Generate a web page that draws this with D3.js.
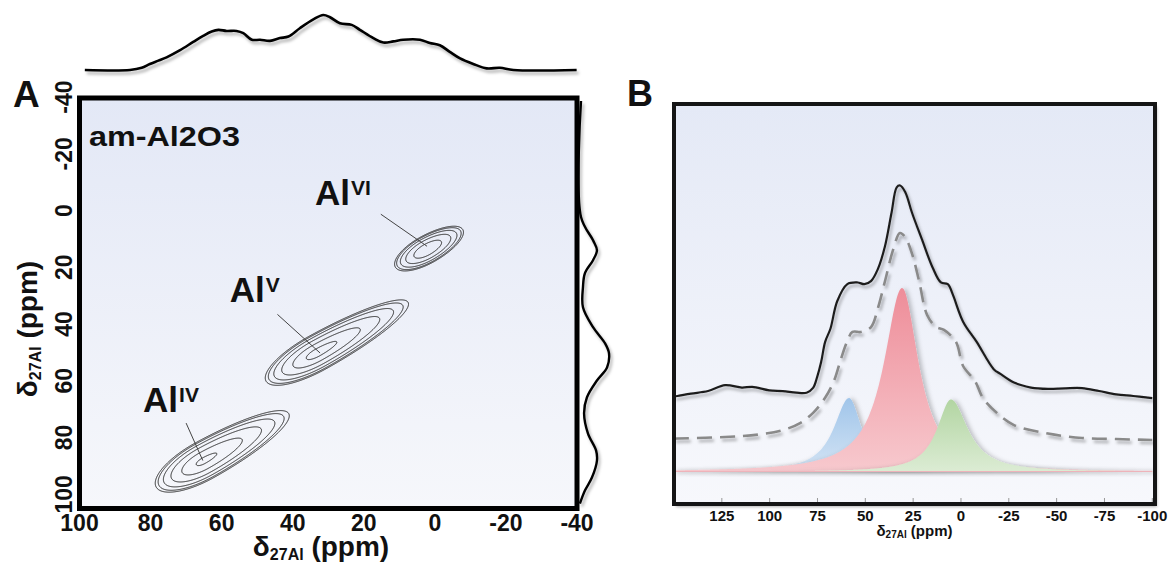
<!DOCTYPE html>
<html>
<head>
<meta charset="utf-8">
<script src="https://cdn.jsdelivr.net/npm/d3@7"></script>
<style>
  body { margin: 0; background: #fff; }
  text { font-family: "Liberation Sans", Arial, sans-serif; font-weight: bold; fill: #111; }
</style>
</head>
<body>
<svg id="fig" width="1174" height="563"></svg>
<script>
// ---------- values ----------
// panel A : 27Al MQMAS, both axes in ppm
const ticksF2 = [100, 80, 60, 40, 20, 0, -20, -40];
const ticksF1 = [-40, -20, 0, 20, 40, 60, 80, 100];

const sites = ["IV", "V", "VI"];
const siteF2 = [65.2, 33.2, 2.4];
const siteF1 = [88.0, 49.9, 13.6];
const siteAmp = [0.95, 1.0, 0.85];
const siteSpreadUp = [12.9, 13.6, 5.6];     // ppm along the ridge, to low shift
const siteSpreadDown = [7.2, 7.7, 4.9];     // ppm along the ridge, to high shift
const siteSpreadAcross = [2.6, 2.4, 1.9];   // ppm across the ridge
const ridgeAngle = 29;                      // deg
const contourLevels = [0.1, 0.13, 0.2, 0.34, 0.6, 0.9];

const labelPos = [[82.1, 71.1], [57.7, 32.3], [33.7, -1.9]];
const leaderFrom = [[70.0, 74.9], [44.3, 36.6], [15.2, 1.3]];
const leaderTo = [[65.3, 88.1], [32.3, 50.2], [2.2, 12.6]];

// projections, normalised
const topPpm = [98.5, 85.8, 82.5, 80.2, 77.8, 75.5, 71.7, 68.0, 65.2, 62.8, 60.9, 58.6, 55.8, 53.9, 51.5, 49.2,
  46.4, 43.6, 41.2, 38.0, 34.2, 31.4, 29.5, 26.7, 23.4, 21.1, 17.3, 14.5, 11.7, 8.9, 4.2, 1.4, -1.4, -4.2,
  -7.1, -10.8, -14.6, -18.3, -22.1, -39.9];
const topInt = [0, 0, 0.04, 0.11, 0.17, 0.23, 0.36, 0.51, 0.62, 0.70, 0.73, 0.71, 0.71, 0.67, 0.55, 0.55,
  0.53, 0.58, 0.61, 0.76, 0.92, 1.0, 0.96, 0.85, 0.82, 0.73, 0.58, 0.50, 0.52, 0.55, 0.55, 0.49, 0.45, 0.33,
  0.21, 0.11, 0.03, 0.04, 0, 0];
const sidePpm = [-38.6, 2.3, 10.5, 14.0, 17.5, 22.1, 27.0, 34.1, 41.1, 46.8, 50.3, 55.3, 59.9, 65.9, 71.5,
  78.6, 84.6, 88.1, 94.1, 98.7, 103.3];
const sideInt = [0, 0, 0.43, 0.57, 0.43, 0.14, 0.07, 0.07, 0.43, 0.86, 1.0, 0.93, 0.57, 0.21, 0.11,
  0.25, 0.54, 0.57, 0.39, 0.14, -0.04];

// panel B : 1D spectrum, fit and components
const ticksB = [125, 100, 75, 50, 25, 0, -25, -50, -75, -100];
const expPpm = [150, 148.2, 141.1, 132.2, 123.3, 114.5, 109.1, 100.2, 93.1, 86.0, 80.7, 77.3, 75.2, 73.1, 71.0,
  68.2, 64.7, 59.4, 54.0, 50.5, 46.9, 43.4, 39.8, 36.3, 33.6, 31.8, 29.1, 25.6, 20.3, 14.9, 10.5, 6.9, 4.3,
  -1.1, -8.2, -17.1, -20.6, -27.7, -36.6, -45.5, -54.4, -63.3, -72.2, -81.1, -90.0, -98.8, -100];
const expInt = [41.0, 41.3, 42.6, 44.0, 47.2, 45.9, 46.3, 44.4, 44.0, 43.1, 43.1, 45.7, 51.6, 59.8, 70.7,
  78.0, 92.8, 102.1, 103.0, 102.1, 103.9, 110.4, 122.4, 140.9, 154.7, 155.7, 152.0, 140.9, 126.1, 111.3, 103.0,
  102.1, 96.5, 81.7, 70.7, 55.9, 53.3, 48.6, 45.9, 45.2, 45.5, 45.6, 44.0, 42.2, 41.3, 40.3, 40.2];
const fitPpm = [150, 148.2, 123.3, 105.6, 93.0, 84.1, 77.3, 71.1, 66.4, 62.9, 59.6, 56.7, 52.3, 47.0, 43.4,
  39.7, 35.5, 31.9, 29.2, 25.6, 21.9, 17.7, 13.0, 8.9, 2.6, -1.1, -7.3, -11.5, -18.8, -27.7, -45.5, -63.3,
  -81.1, -100];
const fitInt = [18.1, 18.2, 19.0, 20.4, 22.8, 26.6, 32.1, 40.2, 49.5, 60.9, 70.7, 76.1, 76.1, 78.8, 89.1,
  103.8, 120.7, 129.9, 127.7, 118.7, 103.8, 85.3, 78.8, 77.2, 70.7, 57.6, 49.5, 40.2, 32.1, 25.5, 20.9, 18.5,
  17.9, 17.4];
const compCenter = [58.5, 30.8, 5.2];
const compHeight = [40.2, 100, 39.4];
const compHwhmHigh = [9.7, 11.5, 8.9];
const compHwhmLow = [8.0, 10.5, 10.7];
const compColor = [["#a0c5ea", "#d4e4f4"], ["#ee8d99", "#f7c9ce"], ["#b2d5a2", "#dcecd4"]];

// ---------- drawing ----------
const svg = d3.select("#fig");
const defs = svg.append("defs");

function vgrad(id, top, bottom) {
  const g = defs.append("linearGradient").attr("id", id)
    .attr("x1", 0).attr("y1", 0).attr("x2", 0).attr("y2", 1);
  g.append("stop").attr("offset", "0%").attr("stop-color", top);
  g.append("stop").attr("offset", "100%").attr("stop-color", bottom);
}
vgrad("bgA", "#e3e8f6", "#f6f7fb");
vgrad("bgB", "#e4e9f6", "#f7f8fc");
compColor.forEach((c, k) => vgrad("comp" + k, c[0], c[1]));

function makeShadow(id, dx, dy, sd, op) {
  const f = defs.append("filter").attr("id", id)
    .attr("filterUnits", "userSpaceOnUse")
    .attr("x", 0).attr("y", 0).attr("width", 1174).attr("height", 563);
  f.append("feDropShadow").attr("dx", dx).attr("dy", dy).attr("stdDeviation", sd)
    .attr("flood-color", "#000").attr("flood-opacity", op);
}
makeShadow("shadow", 2, 3, 1.8, 0.3);
makeShadow("softShadow", 3, 0.5, 2, 0.22);

// ===== panel A =====
const A = {left: 79.5, right: 577, top: 98, bottom: 508.5};
const xA = d3.scaleLinear().domain([100, -40]).range([A.left, A.right]);
const yA = d3.scaleLinear().domain([-40, 105]).range([97, A.bottom]);

svg.append("rect").attr("x", A.left).attr("y", A.top)
  .attr("width", A.right - A.left).attr("height", A.bottom - A.top)
  .attr("fill", "url(#bgA)");

// contour field on a pixel grid
const gx0 = Math.ceil(A.left), gy0 = Math.ceil(A.top);
const nx = Math.floor(A.right) - gx0, ny = Math.floor(A.bottom) - gy0;
const field = new Float64Array(nx * ny);
const pxPerPpm = Math.abs(xA(1) - xA(0));
const th = ridgeAngle * Math.PI / 180, cs = Math.cos(th), sn = Math.sin(th);
sites.forEach((s, k) => {
  const cx = xA(siteF2[k]) - gx0, cy = yA(siteF1[k]) - gy0;
  const su = siteSpreadUp[k] * pxPerPpm, sd = siteSpreadDown[k] * pxPerPpm;
  const sv = siteSpreadAcross[k] * pxPerPpm;
  for (let j = 0; j < ny; j++) {
    for (let i = 0; i < nx; i++) {
      const dx = i - cx, dy = j - cy;
      const u = dx * cs - dy * sn, v = dx * sn + dy * cs;
      const w = u > 0 ? su : sd;
      field[j * nx + i] += siteAmp[k] * Math.exp(-u * u / (2 * w * w) - v * v / (2 * sv * sv));
    }
  }
});
const rings = d3.contours().size([nx, ny]).thresholds(contourLevels)(field);
svg.append("g").attr("transform", `translate(${gx0},${gy0})`)
  .selectAll("path").data(rings).join("path")
  .attr("d", d3.geoPath())
  .attr("fill", "none").attr("stroke", "#2b2b2b").attr("stroke-width", 1);

// leader lines and site labels
sites.forEach((s, k) => {
  svg.append("line")
    .attr("x1", xA(leaderFrom[k][0])).attr("y1", yA(leaderFrom[k][1]))
    .attr("x2", xA(leaderTo[k][0])).attr("y2", yA(leaderTo[k][1]))
    .attr("stroke", "#444").attr("stroke-width", 1);
  const t = svg.append("text").attr("x", xA(labelPos[k][0])).attr("y", yA(labelPos[k][1]))
    .attr("font-size", 35);
  t.append("tspan").text("Al");
  t.append("tspan").attr("dx", 1).attr("dy", -10).attr("font-size", 21).text(s);
});

svg.append("rect").attr("x", A.left).attr("y", A.top)
  .attr("width", A.right - A.left).attr("height", A.bottom - A.top)
  .attr("fill", "none").attr("stroke", "#000").attr("stroke-width", 5);

svg.append("text").attr("x", 89).attr("y", 146).attr("font-size", 27)
  .attr("textLength", 151).attr("lengthAdjust", "spacingAndGlyphs").text("am-Al2O3");

// tick labels
svg.append("g").selectAll("text").data(ticksF2).join("text")
  .attr("x", d => xA(d)).attr("y", 531).attr("text-anchor", "middle")
  .attr("font-size", 23).text(d => d);
svg.append("g").selectAll("text").data(ticksF1).join("text")
  .attr("transform", d => `translate(72,${yA(d)}) rotate(-90)`)
  .attr("text-anchor", "middle").attr("font-size", 23).text(d => d);

function shiftTitle(sel, size, sub) {
  sel.append("tspan").text("δ");
  sel.append("tspan").attr("font-size", sub).attr("dy", size * 0.14).text("27Al");
  sel.append("tspan").attr("dy", -size * 0.14).text(" (ppm)");
}
shiftTitle(svg.append("text").attr("x", 321).attr("y", 556).attr("text-anchor", "middle")
  .attr("font-size", 28), 28, 16);
shiftTitle(svg.append("text").attr("transform", "translate(37,329) rotate(-90)")
  .attr("text-anchor", "middle").attr("font-size", 28), 28, 16);

svg.append("text").attr("x", 13).attr("y", 107).attr("font-size", 37).text("A");

// projections
const yTop = d3.scaleLinear().domain([0, 1]).range([70, 15]);
svg.append("path").datum(topPpm.map((p, i) => [p, topInt[i]]))
  .attr("d", d3.line().x(d => xA(d[0])).y(d => yTop(d[1])).curve(d3.curveCatmullRom))
  .attr("fill", "none").attr("stroke", "#000").attr("stroke-width", 2.6)
  .attr("filter", "url(#shadow)");

const xSide = d3.scaleLinear().domain([0, 1]).range([581, 609]);
svg.append("path").datum(sidePpm.map((p, i) => [p, sideInt[i]]))
  .attr("d", d3.line().x(d => xSide(d[1])).y(d => yA(d[0])).curve(d3.curveCatmullRom))
  .attr("fill", "none").attr("stroke", "#000").attr("stroke-width", 2.4)
  .attr("filter", "url(#shadow)");

// ===== panel B =====
const B = {left: 674, right: 1155, top: 104, bottom: 504};
const xB = d3.scaleLinear().domain([150, -100]).range([B.left, 1152.3]);
const yB = d3.scaleLinear().domain([0, 100]).range([472, 288]);

svg.append("rect").attr("x", B.left).attr("y", B.top)
  .attr("width", B.right - B.left).attr("height", B.bottom - B.top)
  .attr("fill", "url(#bgB)").attr("filter", "url(#shadow)");

defs.append("clipPath").attr("id", "clipB").append("rect")
  .attr("x", B.left).attr("y", B.top).attr("width", B.right - B.left).attr("height", B.bottom - B.top);
const gB = svg.append("g").attr("clip-path", "url(#clipB)");

const grid = d3.range(150, -100.01, -0.5);
function lineshape(k, p) {
  const w = p > compCenter[k] ? compHwhmHigh[k] : compHwhmLow[k];
  const d = (p - compCenter[k]) / w;
  return compHeight[k] / (1 + d * d);
}
compCenter.forEach((c, k) => {
  gB.append("path").datum(grid)
    .attr("d", d3.area().x(p => xB(p)).y0(yB(0)).y1(p => yB(lineshape(k, p))))
    .attr("fill", `url(#comp${k})`).attr("filter", "url(#softShadow)");
});
// thin pink baseline left by the component tails
gB.append("line").attr("x1", xB(150)).attr("x2", xB(-100))
  .attr("y1", yB(0) - 0.5).attr("y2", yB(0) - 0.5)
  .attr("stroke", "#eeb3ba").attr("stroke-width", 1.2);

gB.append("path").datum(fitPpm.map((p, i) => [p, fitInt[i]]))
  .attr("d", d3.line().x(d => xB(d[0])).y(d => yB(d[1])).curve(d3.curveCatmullRom))
  .attr("fill", "none").attr("stroke", "#8a8a8a").attr("stroke-width", 2.6)
  .attr("stroke-dasharray", "15 8").attr("filter", "url(#shadow)");

gB.append("path").datum(expPpm.map((p, i) => [p, expInt[i]]))
  .attr("d", d3.line().x(d => xB(d[0])).y(d => yB(d[1])).curve(d3.curveCatmullRom))
  .attr("fill", "none").attr("stroke", "#1e1e1e").attr("stroke-width", 2.2)
  .attr("filter", "url(#shadow)");

svg.append("rect").attr("x", B.left).attr("y", B.top)
  .attr("width", B.right - B.left).attr("height", B.bottom - B.top)
  .attr("fill", "none").attr("stroke", "#151515").attr("stroke-width", 4);

svg.append("g").selectAll("line").data(ticksB).join("line")
  .attr("x1", d => xB(d)).attr("x2", d => xB(d))
  .attr("y1", B.bottom - 6).attr("y2", B.bottom - 2)
  .attr("stroke", "#999").attr("stroke-width", 1);
svg.append("g").selectAll("text").data(ticksB).join("text")
  .attr("x", d => xB(d)).attr("y", 521).attr("text-anchor", "middle")
  .attr("font-size", 15).text(d => d);
shiftTitle(svg.append("text").attr("x", (B.left + B.right) / 2).attr("y", 536)
  .attr("text-anchor", "middle").attr("font-size", 15), 15, 10);

svg.append("text").attr("x", 627).attr("y", 106).attr("font-size", 36).text("B");
</script>
</body>
</html>
